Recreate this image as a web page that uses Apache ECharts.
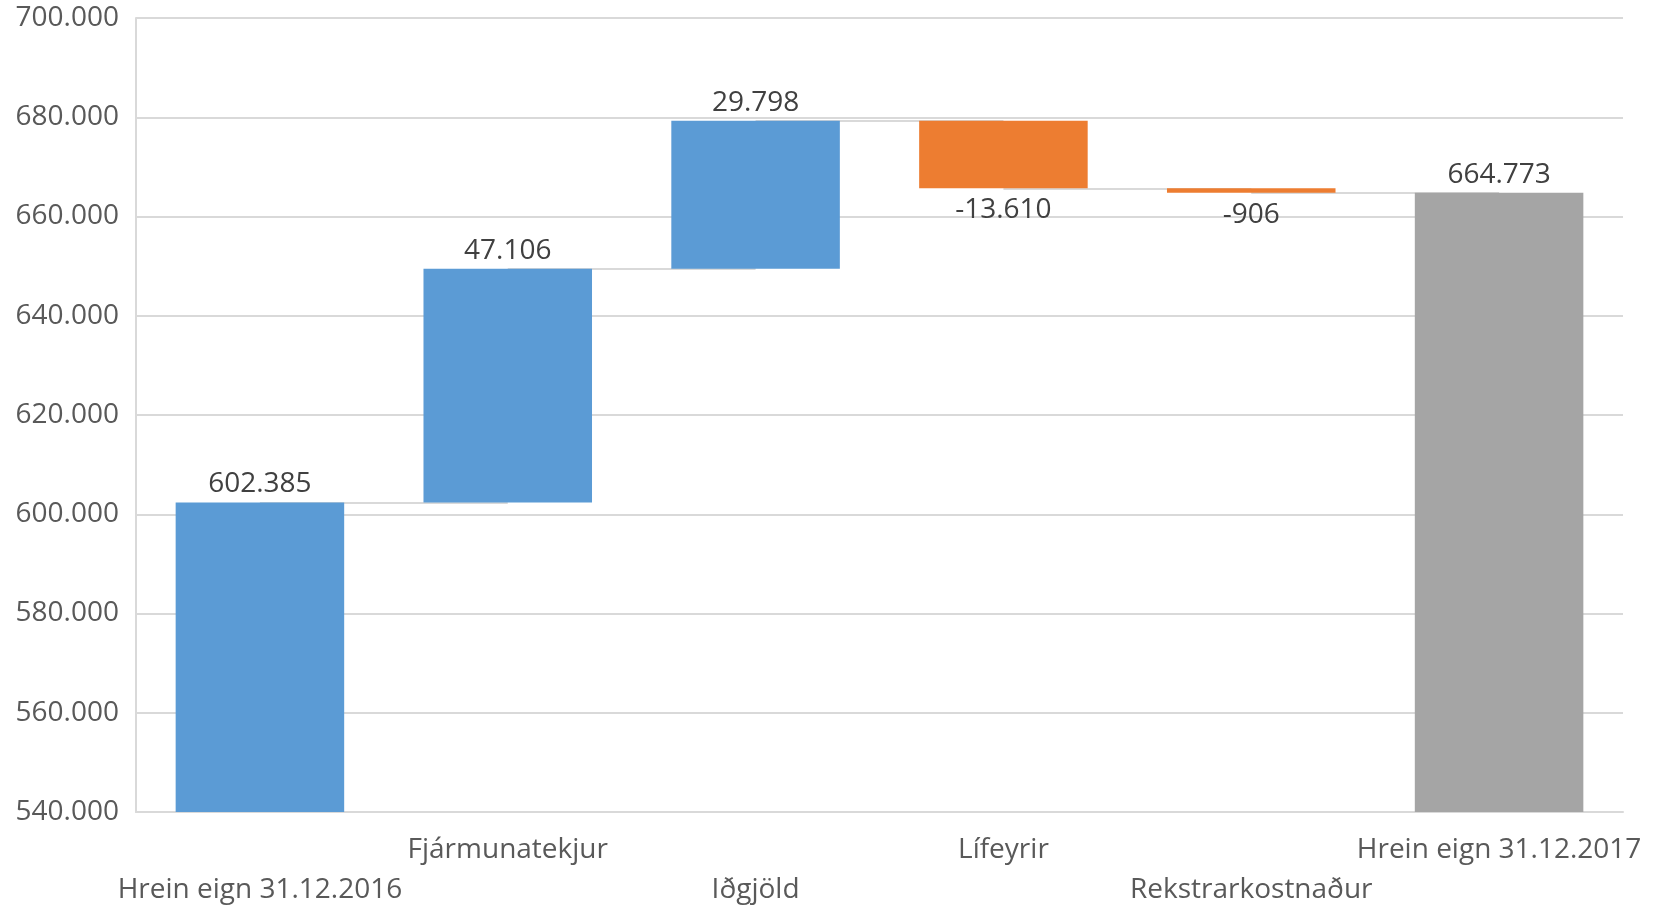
<!DOCTYPE html>
<html>
<head>
<meta charset="utf-8">
<script src="https://cdn.jsdelivr.net/npm/echarts@6/dist/echarts.min.js"></script>
<style>
  html, body { margin: 0; padding: 0; background: #fff; }
  #myChart { width: 1662px; height: 906px; }
</style>
</head>
<body>
<div id="myChart"></div>
<script>
// flokkar og gildi (lesin af myndinni)
var categories = ["Hrein eign 31.12.2016", "Fjármunatekjur", "Iðgjöld", "Lífeyrir", "Rekstrarkostnaður", "Hrein eign 31.12.2017"];
var changes = [602385, 47106, 29798, -13610, -906, 664773];
var isTotal = [true, false, false, false, false, true];
var yTicks = [540000, 560000, 580000, 600000, 620000, 640000, 660000, 680000, 700000];

function fmt(n) {
  var s = Math.abs(n).toString().replace(/\B(?=(\d{3})+(?!\d))/g, ".");
  return (n < 0 ? "-" : "") + s;
}

// byggja upp fossagrafið
var base = [], pos = [], neg = [], total = [], levels = [];
var running = 0;
for (var i = 0; i < changes.length; i++) {
  var d = changes[i];
  if (isTotal[i]) {
    base.push("-"); pos.push("-"); neg.push("-"); total.push(d);
    running = d;
  } else if (d >= 0) {
    base.push(running); pos.push(d); neg.push("-"); total.push("-");
    running += d;
  } else {
    running += d;
    base.push(running); pos.push("-"); neg.push(-d); total.push("-");
  }
  levels.push(running);
}

var connectors = [];
for (var j = 0; j < categories.length - 1; j++) {
  connectors.push([{ coord: [j, levels[j]] }, { coord: [j + 1, levels[j]] }]);
}

var font = "'Open Sans', sans-serif";
var labelStyle = { show: true, color: "#404040", fontSize: 28, fontFamily: font, distance: 4 };

var myChart = echarts.init(document.getElementById("myChart"));
myChart.setOption({
  animation: false,
  grid: { left: 136, right: 39, top: 18, bottom: 94, outerBoundsMode: "none", containLabel: false },
  xAxis: {
    type: "category",
    data: categories,
    axisLine: { show: true, lineStyle: { color: "#d9d9d9", width: 2 } },
    axisTick: { show: false },
    axisLabel: {
      interval: 0,
      margin: 18,
      color: "#595959",
      fontSize: 28,
      fontFamily: font,
      lineHeight: 40,
      verticalAlign: "top",
      formatter: function (v, idx) { return idx % 2 === 0 ? "\n" + v : v; }
    }
  },
  yAxis: {
    type: "value",
    min: yTicks[0],
    max: yTicks[yTicks.length - 1],
    interval: yTicks[1] - yTicks[0],
    axisLine: { show: true, lineStyle: { color: "#d9d9d9", width: 2 } },
    axisTick: { show: false },
    splitLine: { lineStyle: { color: "#d9d9d9", width: 2 } },
    axisLabel: {
      margin: 17,
      color: "#595959",
      fontSize: 28,
      fontFamily: font,
      formatter: function (v) { return fmt(v); }
    }
  },
  series: [
    {
      name: "connectors",
      type: "line",
      data: [],
      z: 1,
      markLine: {
        z: 1,
        silent: true,
        symbol: "none",
        label: { show: false },
        lineStyle: { color: "#d9d9d9", width: 2, type: "solid" },
        data: connectors
      }
    },
    {
      name: "base",
      type: "bar",
      stack: "w",
      barCategoryGap: "32%",
      itemStyle: { color: "transparent" },
      emphasis: { disabled: true },
      data: base
    },
    {
      name: "hækkun",
      type: "bar",
      stack: "w",
      itemStyle: { color: "#5B9BD5" },
      label: Object.assign({}, labelStyle, {
        position: "top",
        formatter: function (p) { return fmt(changes[p.dataIndex]); }
      }),
      data: pos
    },
    {
      name: "lækkun",
      type: "bar",
      stack: "w",
      itemStyle: { color: "#ED7D31" },
      label: Object.assign({}, labelStyle, {
        position: "bottom",
        distance: 8,
        formatter: function (p) { return fmt(changes[p.dataIndex]); }
      }),
      data: neg
    },
    {
      name: "samtals",
      type: "bar",
      stack: "w",
      itemStyle: { color: function (p) { return p.dataIndex === 0 ? "#5B9BD5" : "#A5A5A5"; } },
      label: Object.assign({}, labelStyle, {
        position: "top",
        formatter: function (p) { return fmt(changes[p.dataIndex]); }
      }),
      data: total
    }
  ]
});
</script>
</body>
</html>
